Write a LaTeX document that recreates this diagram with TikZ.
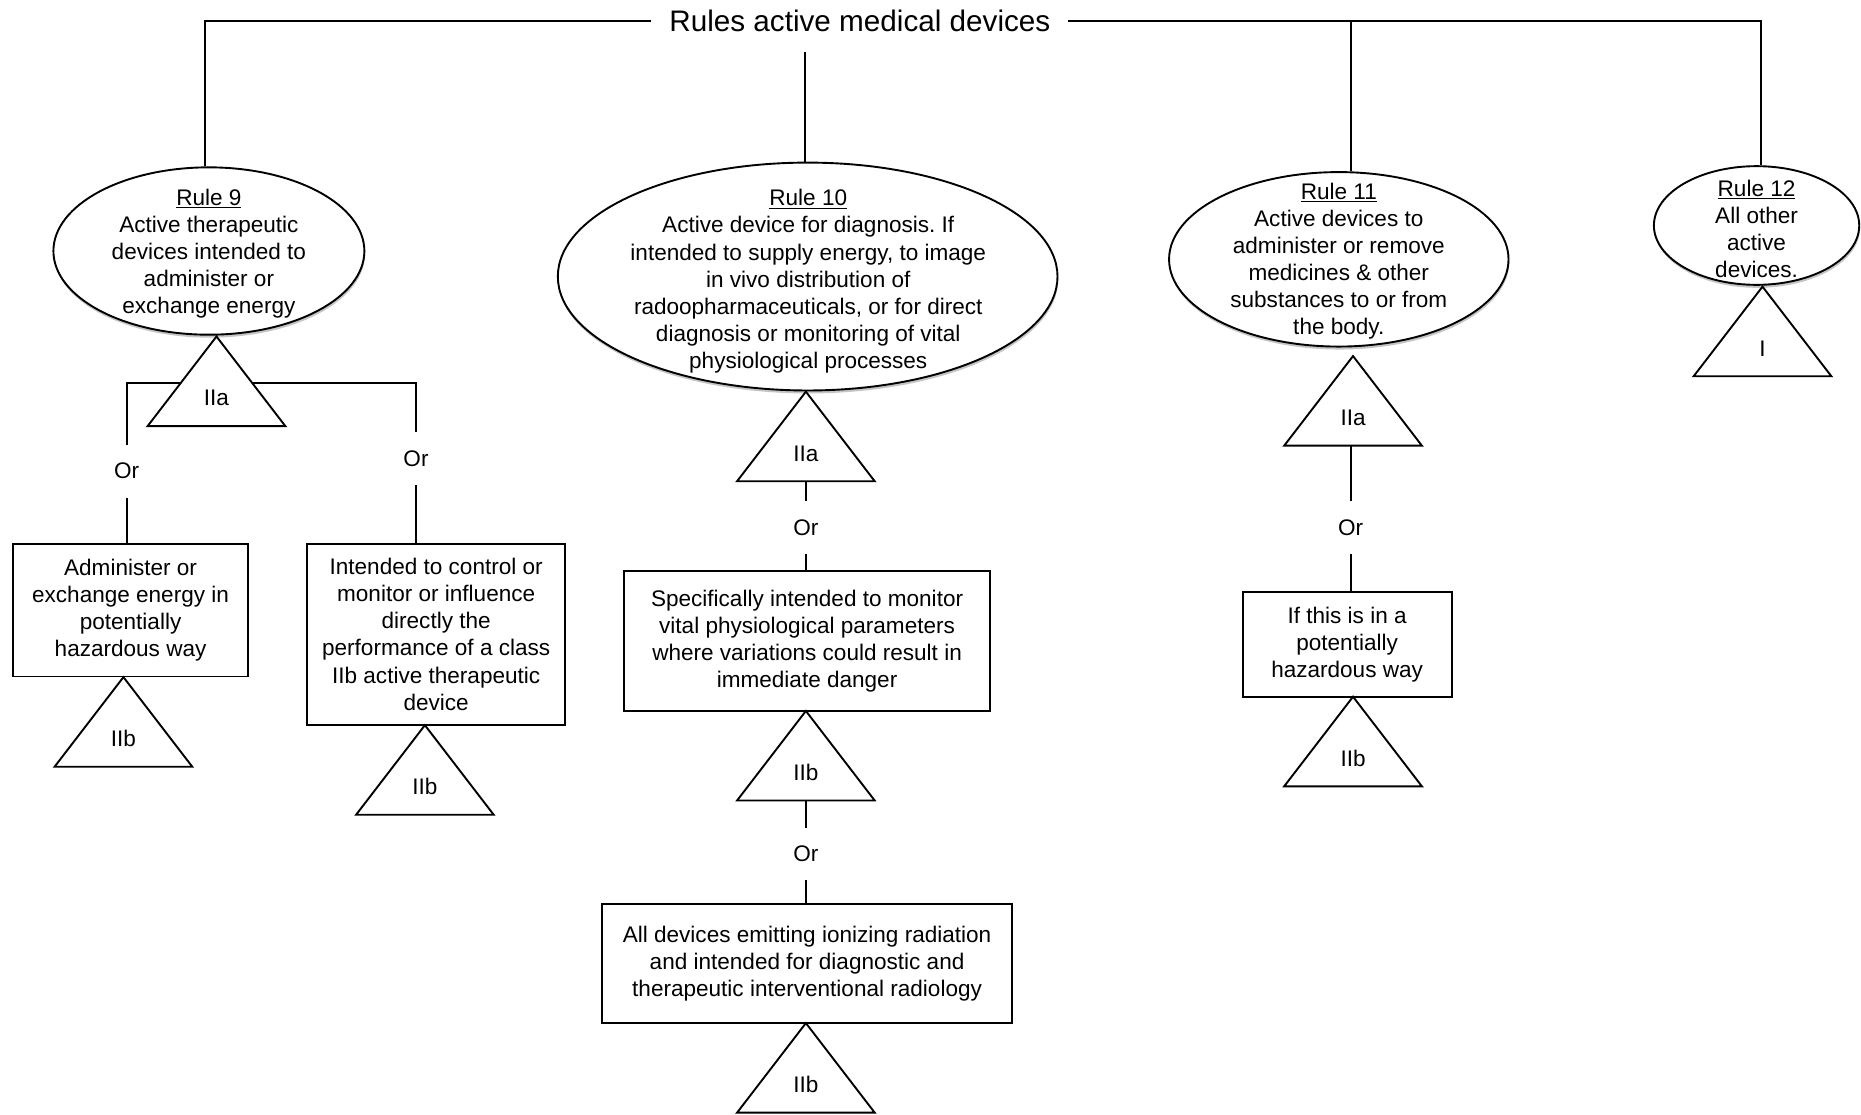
\documentclass[tikz,border=0pt]{standalone}
\usepackage{fontspec}
\setmainfont{Liberation Sans}
\usetikzlibrary{shapes.geometric,shadows}
\frenchspacing

\newcommand\bdfont{\fontsize{19}{22.8}\selectfont}
\newcommand\ttlfont{\fontsize{25}{30}\selectfont}

\tikzset{
  every node/.style={font=\bdfont, text=black},
  conn/.style={line width=1.6pt},
  ellip/.style={ellipse, draw, line width=1.6pt, fill=white, inner sep=0pt,
    drop shadow={shadow xshift=0.6pt, shadow yshift=-2.5pt, opacity=0.32, fill=black!70}},
  txt/.style={align=center, inner sep=0pt},
  box/.style={rectangle, draw, line width=1.6pt, fill=white, align=center, inner sep=0pt},
  orlbl/.style={inner sep=0pt, minimum height=44pt},
  tri/.style={draw, line width=1.6pt, fill=white, line join=miter},
  cls/.pic={
    \coordinate (-apex) at (0,0);
    \coordinate (-base) at (0,75.5);
    \coordinate (-l) at (-30.3,39.5);
    \coordinate (-r) at (30.3,39.5);
    \draw[tri] (0,0) -- (58,75.5) -- (-58,75.5) -- cycle;
    \node[inner sep=0pt] (-lbl) at (0,52) {#1};
  }
}

\begin{document}
\begin{tikzpicture}[x=1pt, y=-1pt]
\fill[white] (0,0) rectangle (1568,939);
\useasboundingbox (0,0) rectangle (1568,939);

% heading
\node[font=\ttlfont, inner sep=0pt] (title) at (724.5,17.5) {Rules active medical devices};

% the four rules
\node[ellip, minimum width=262pt, minimum height=141pt] (e9) at (176,211.5) {};
\node[txt] (e9t) at (176,214) {\underline{Rule 9}\\Active therapeutic\\devices intended to\\administer or\\exchange energy};

\node[ellip, minimum width=421pt, minimum height=192pt] (e10) at (680.5,233) {};
\node[txt] (e10t) at (681,237) {\underline{Rule 10}\\Active device for diagnosis. If\\intended to supply energy, to image\\in vivo distribution of\\radoopharmaceuticals, or for direct\\diagnosis or monitoring of vital\\physiological processes};

\node[ellip, minimum width=286pt, minimum height=147pt] (e11) at (1128,218.5) {};
\node[txt] (e11t) at (1128,220) {\underline{Rule 11}\\Active devices to\\administer or remove\\medicines \& other\\substances to or from\\the body.};

\node[ellip, minimum width=173pt, minimum height=100pt] (e12) at (1480,190) {};
\node[txt] (e12t) at (1480,193) {\underline{Rule 12}\\All other\\active\\devices.};

% conditions
\node[box, minimum width=198pt, minimum height=112pt] (b9a) at (110,514) {Administer or\\exchange energy in\\potentially\\hazardous way};
\node[box, minimum width=217pt, minimum height=153pt] (b9b) at (367.5,534.5) {Intended to control or\\monitor or influence\\directly the\\performance of a class\\IIb active therapeutic\\device};
\node[box, minimum width=308pt, minimum height=118pt] (b10a) at (680,540) {Specifically intended to monitor\\vital physiological parameters\\where variations could result in\\immediate danger};
\node[box, minimum width=346pt, minimum height=100pt] (b10b) at (680,812) {All devices emitting ionizing radiation\\and intended for diagnostic and\\therapeutic interventional radiology};
\node[box, minimum width=176pt, minimum height=88pt] (b11) at (1135,543) {If this is in a\\potentially\\hazardous way};

% resulting classes
\pic (t9a) at (182.4,283.5) {cls=IIa};
\pic (t9l) at (104,570.5) {cls=IIb};
\pic (t9r) at (358,611) {cls=IIb};
\pic (t10a) at (679,330) {cls=IIa};
\pic (t10b) at (679,599) {cls=IIb};
\pic (t10c) at (679,862) {cls=IIb};
\pic (t11a) at (1140,300) {cls=IIa};
\pic (t11b) at (1140,587) {cls=IIb};
\pic (t12) at (1485,241.5) {cls=I};

% alternatives
\node[orlbl] (or9l) at (106.7,397) {Or};
\node[orlbl] (or9r) at (350.5,386.5) {Or};
\node[orlbl] (or10a) at (679,444.5) {Or};
\node[orlbl] (or10b) at (679,719.5) {Or};
\node[orlbl] (or11) at (1138,444.5) {Or};

% heading lines
\coordinate (j9) at (173,17.5);
\coordinate (j10) at (678,44);
\coordinate (j11) at (1138,17.5);
\coordinate (j12) at (1484,17.5);
\draw[conn] ([xshift=-15pt]title.west) -- (j9) -- (j9 |- e9.north);
\draw[conn] ([xshift=15pt]title.east) -- (j12) -- (j12 |- e12.north);
\draw[conn] (j11) -- (j11 |- e11.north);
\draw[conn] (j10) -- (j10 |- e10.north);

% branches
\draw[conn] (t9a-l) -| (or9l.north);
\draw[conn] (or9l.south) -- (or9l.south |- b9a.north);
\draw[conn] (t9a-r) -| (or9r.north);
\draw[conn] (or9r.south) -- (or9r.south |- b9b.north);
\draw[conn] (t10a-base) -- (or10a.north);
\draw[conn] (or10a.south) -- (or10a.south |- b10a.north);
\draw[conn] (t10b-base) -- (or10b.north);
\draw[conn] (or10b.south) -- (or10b.south |- b10b.north);
\draw[conn] (or11.north |- t11a-base) -- (or11.north);
\draw[conn] (or11.south) -- (or11.south |- b11.north);
\end{tikzpicture}
\end{document}
